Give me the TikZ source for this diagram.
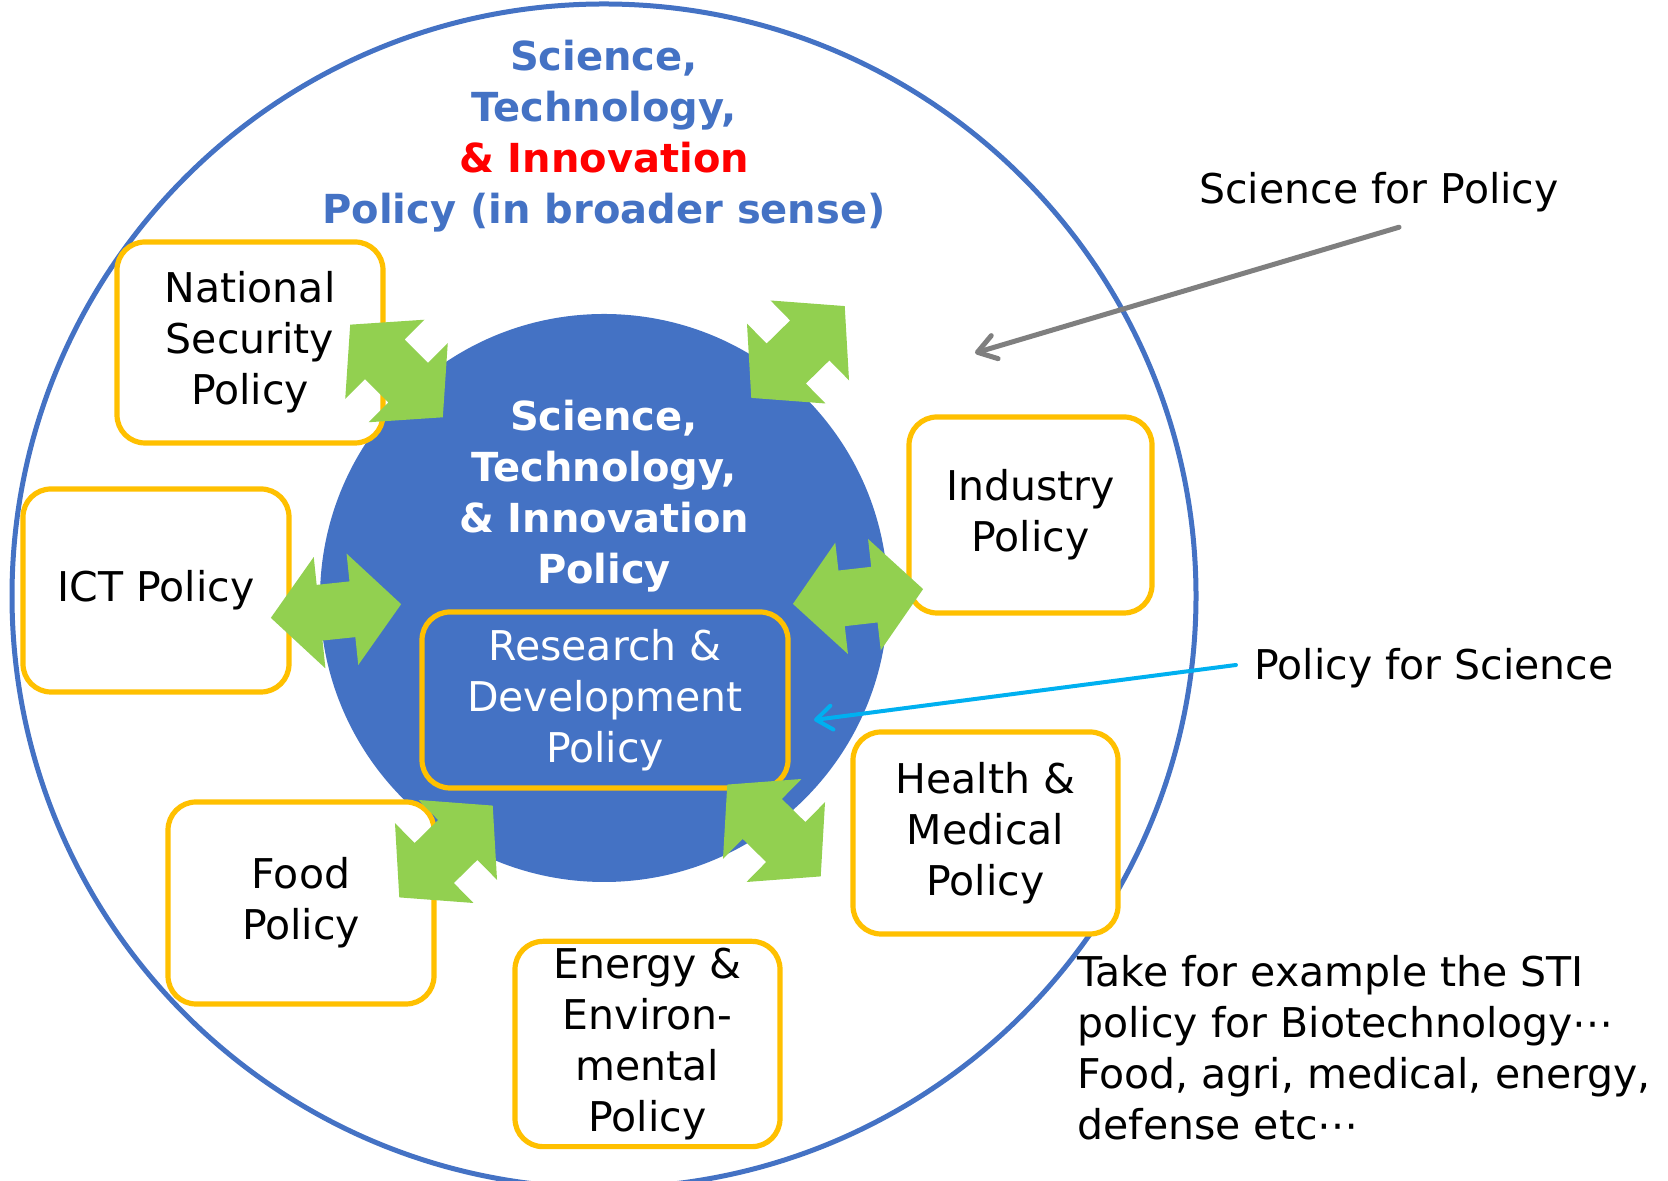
\documentclass[tikz,border=0pt]{standalone}
\usepackage{fontspec}
\setmainfont{DejaVu Sans}
\usepackage{xcolor}
\usetikzlibrary{arrows.meta}

\definecolor{stiblue}{HTML}{4472C4}
\definecolor{boxorange}{HTML}{FFC000}
\definecolor{arrowgreen}{HTML}{92D050}
\definecolor{pfsblue}{HTML}{00B0F0}
\definecolor{sfpgray}{HTML}{7F7F7F}

\newcommand{\policyfont}{\fontsize{20.5}{25.5}\selectfont}
\newcommand{\titlefont}{\fontsize{20}{25.5}\selectfont\bfseries}

\tikzset{
  policybox/.style={draw=boxorange, line width=2.6pt, rounded corners=14pt, fill=white,
    align=center, font=\policyfont},
  rndbox/.style={policybox, fill=none, text=white},
  outertitle/.style={align=center, text=stiblue, font=\titlefont, inner sep=0pt},
  innertitle/.style={align=center, text=white, font=\titlefont, inner sep=0pt},
  note/.style={font=\policyfont, inner sep=0pt},
  sfparrow/.style={draw=sfpgray, line width=2.5pt, line cap=round,
    -{Straight Barb[length=9pt,width=12pt,round]}},
  pfsarrow/.style={draw=pfsblue, line width=2pt, line cap=round,
    -{Straight Barb[length=8pt,width=12pt,round]}},
  dblarrow/.pic={
    \fill[arrowgreen] (-65.5,0) -- (-16.5,56) -- (-16.5,28) -- (16.5,28) -- (16.5,56)
      -- (65.5,0) -- (16.5,-56) -- (16.5,-28) -- (-16.5,-28) -- (-16.5,-56) -- cycle;
  }
}

\begin{document}
\begin{tikzpicture}[x=0.5pt, y=0.5pt]
    \useasboundingbox (0,0) rectangle (1668,1181);

    % STI policy in broader sense - outer circle
    \draw[stiblue, line width=2.5pt] (604,585) circle[radius=592];
    \node[outertitle] (broad) at (604,1044.5)
        {Science,\\Technology,\\\textcolor{red}{\& Innovation}\\Policy (in broader sense)};

    % STI policy - inner disc
    \fill[stiblue] (604,583) circle[radius=284];
    \node[innertitle] (core) at (604,685) {Science,\\Technology,\\\& Innovation\\Policy};
    \node[rndbox, minimum width=183pt, minimum height=88pt] (rnd) at (605,481)
        {Research \&\\Development\\Policy};

    % Neighbouring policies
    \node[policybox, minimum width=133pt, minimum height=100.5pt] (natsec) at (250,838.5)
        {National\\Security\\Policy};
    \node[policybox, minimum width=133pt, minimum height=101.5pt] (ict) at (156,590.5) {ICT Policy};
    \node[policybox, minimum width=121.5pt, minimum height=98pt] (industry) at (1030.5,666)
        {Industry\\Policy};
    \node[policybox, minimum width=132.5pt, minimum height=101pt] (health) at (985.5,348)
        {Health \&\\Medical\\Policy};
    \node[policybox, minimum width=133pt, minimum height=101pt] (food) at (301,278)
        {Food\\Policy};
    \node[policybox, minimum width=132.5pt, minimum height=101pt] (energy) at (647.5,137)
        {Energy \&\\Environ-\\mental\\Policy};

    % Exchange arrows
    \pic[rotate=-45] at (396.5,810) {dblarrow};
    \pic[rotate=44.5] at (798,829) {dblarrow};
    \pic[rotate=6] at (336,570) {dblarrow};
    \pic[rotate=6.5] at (858,584.5) {dblarrow};
    \pic[rotate=44.5] at (446,329.5) {dblarrow};
    \pic[rotate=-44.5] at (774,350.5) {dblarrow};

    % Science for Policy
    \node[note] (sfp) at (1379,989) {Science for Policy};
    \coordinate (sfptip) at (975,828);
    \draw[sfparrow] ([shift={(20,-15)}]sfp.south) -- (sfptip);

    % Policy for Science
    \node[note] (pfs) at (1434,513) {Policy for Science};
    \coordinate (pfstip) at (814,461);
    \draw[pfsarrow] ([shift={(-18,3)}]pfs.west) -- (pfstip);

    % Example
    \node[note, anchor=west, align=left] (biotech) at (1077,133.5)
        {Take for example the STI\\policy for Biotechnology⋯\\Food, agri, medical, energy,\\defense etc⋯};
\end{tikzpicture}
\end{document}
